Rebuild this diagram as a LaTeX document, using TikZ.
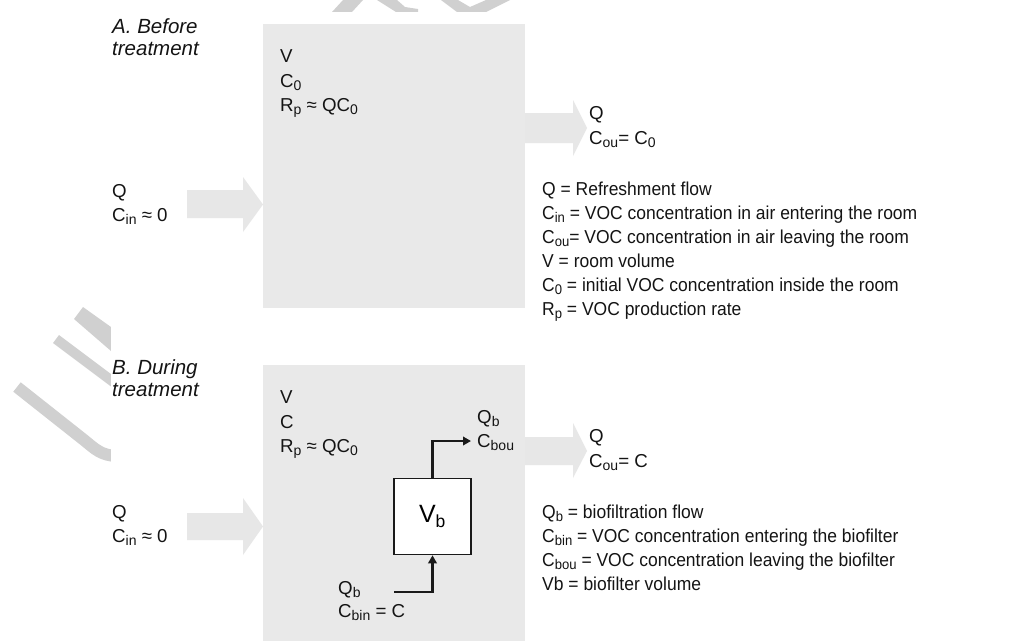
\documentclass[tikz,border=0pt]{standalone}
\usepackage{fontspec}
\setmainfont{Liberation Sans}
\newfontfamily\legendfam[FakeStretch=0.935]{Liberation Sans}
\usetikzlibrary{arrows.meta}
\definecolor{roomgray}{HTML}{E9E9E9}
\definecolor{flowgray}{HTML}{E7E7E7}
\definecolor{wmgray}{HTML}{D0D0D0}
\newcommand\lblfont{\fontsize{18.7}{22}\selectfont}
\newcommand\legfont{\legendfam\fontsize{18.7}{22}\selectfont}
\newcommand\ttlfont{\fontsize{20.5}{24}\selectfont\itshape}
\newcommand\vbfont{\fontsize{25}{29}\selectfont}
\newcommand\sbs[1]{\raisebox{-3.2pt}{\fontsize{14}{14}\selectfont #1}}
\tikzset{
  roombox/.style={fill=roomgray, draw=none, inner sep=0, anchor=north west},
  flowshape/.style={fill=flowgray, draw=none},
  wmark/.style={draw=wmgray, line cap=butt},
  wmfill/.style={fill=wmgray, draw=none},
  lbl/.style={font=\lblfont, anchor=base west, inner sep=0, text=black!92},
  leg/.style={lbl, font=\legfont},
  ttl/.style={lbl, font=\ttlfont},
  filterbox/.style={draw=black!90, line width=1.6pt, fill=white, inner sep=0,
    minimum width=77, minimum height=76, font=\vbfont},
  barrow/.style={draw=black!90, line width=2.3pt, -{Triangle[length=8pt,width=8.5pt]}}
}
\begin{document}
\begin{tikzpicture}[x=1pt,y=-1pt]
\useasboundingbox (0,0) rectangle (1014,641);
% watermark remnants
\draw[wmark, line width=12] (17,387) -- (84,440) .. controls (94,448) and (101,456) .. (118,456);
\draw[wmark, line width=10] (56,339) -- (120,387);
\fill[wmfill] (74,319) -- (83,307) -- (111,327) -- (111,351) -- cycle;
\fill[wmfill] (332,12) -- (352,12) -- (363,0) -- (343,0) -- cycle;
\fill[wmfill] (377,0) -- (397,0) -- (405,7) -- (418,9) -- (418,12) -- (396,12) -- cycle;
\fill[wmfill] (441,0) -- (458,0) -- (470,7) -- (486,0) -- (510,0) -- (486,12) -- (457,12) -- cycle;
\fill[white] (111,12) rectangle (1014,641);
% ---------- Panel A ----------
\node[roombox, minimum width=262, minimum height=284] (roomA) at (263,24) {};
\fill[flowshape] (187,190) -- (243,190) -- (243,177) -- (263,204.5) -- (243,232) -- (243,218) -- (187,218) -- cycle;
\fill[flowshape] (525,113) -- (573,113) -- (573,100) -- (587,128) -- (573,156) -- (573,143) -- (525,143) -- cycle;
\node[ttl] (tA1) at (112,33) {A. Before};
\node[ttl] (tA2) at (112,55) {treatment};
\node[lbl] (aV) at (280,62) {V};
\node[lbl] (aC) at (280,87) {C\sbs{0}};
\node[lbl] (aR) at (280,111) {R\sbs{p} ≈ QC\sbs{0}};
\node[lbl] (aInQ) at (112,197) {Q};
\node[lbl] (aInC) at (112,221) {C\sbs{in} ≈ 0};
\node[lbl] (aOutQ) at (589,119) {Q};
\node[lbl] (aOutC) at (589,144) {C\sbs{ou}= C\sbs{0}};
\node[leg] (la1) at (542,195) {Q = Refreshment flow};
\node[leg] (la2) at (542,219) {C\sbs{in} = VOC concentration in air entering the room};
\node[leg] (la3) at (542,243) {C\sbs{ou}= VOC concentration in air leaving the room};
\node[leg] (la4) at (542,267) {V = room volume};
\node[leg] (la5) at (542,291) {C\sbs{0} = initial VOC concentration inside the room};
\node[leg] (la6) at (542,315) {R\sbs{p} = VOC production rate};
% ---------- Panel B ----------
\node[roombox, minimum width=262, minimum height=276] (roomB) at (263,365) {};
\fill[flowshape] (187,513) -- (243,513) -- (243,498) -- (263,526.5) -- (243,555) -- (243,540) -- (187,540) -- cycle;
\fill[flowshape] (525,437) -- (573,437) -- (573,423) -- (587,451) -- (573,478) -- (573,465) -- (525,465) -- cycle;
\node[ttl] (tB1) at (112,374) {B. During};
\node[ttl] (tB2) at (112,396) {treatment};
\node[lbl] (bV) at (280,403) {V};
\node[lbl] (bC) at (280,428) {C};
\node[lbl] (bR) at (280,452) {R\sbs{p} ≈ QC\sbs{0}};
\node[filterbox] (vb) at (432.5,516.5) {V\textsubscript{b}};
\coordinate (topout) at (471,441);
\coordinate (botin) at (394,592);
\draw[barrow] (vb.north) |- (topout);
\draw[barrow] (botin) -| (vb.south);
\node[lbl] (bQbo) at (477,423) {Q\sbs{b}};
\node[lbl] (bCbo) at (477,447) {C\sbs{bou}};
\node[lbl] (bQbi) at (338,594) {Q\sbs{b}};
\node[lbl] (bCbi) at (338,617) {C\sbs{bin} = C};
\node[lbl] (bInQ) at (112,518) {Q};
\node[lbl] (bInC) at (112,542) {C\sbs{in} ≈ 0};
\node[lbl] (bOutQ) at (589,442) {Q};
\node[lbl] (bOutC) at (589,467) {C\sbs{ou}= C};
\node[leg] (lb1) at (542,518) {Q\sbs{b} = biofiltration flow};
\node[leg] (lb2) at (542,542) {C\sbs{bin} = VOC concentration entering the biofilter};
\node[leg] (lb3) at (542,566) {C\sbs{bou} = VOC concentration leaving the biofilter};
\node[leg] (lb4) at (542,590) {Vb = biofilter volume};
\end{tikzpicture}
\end{document}
